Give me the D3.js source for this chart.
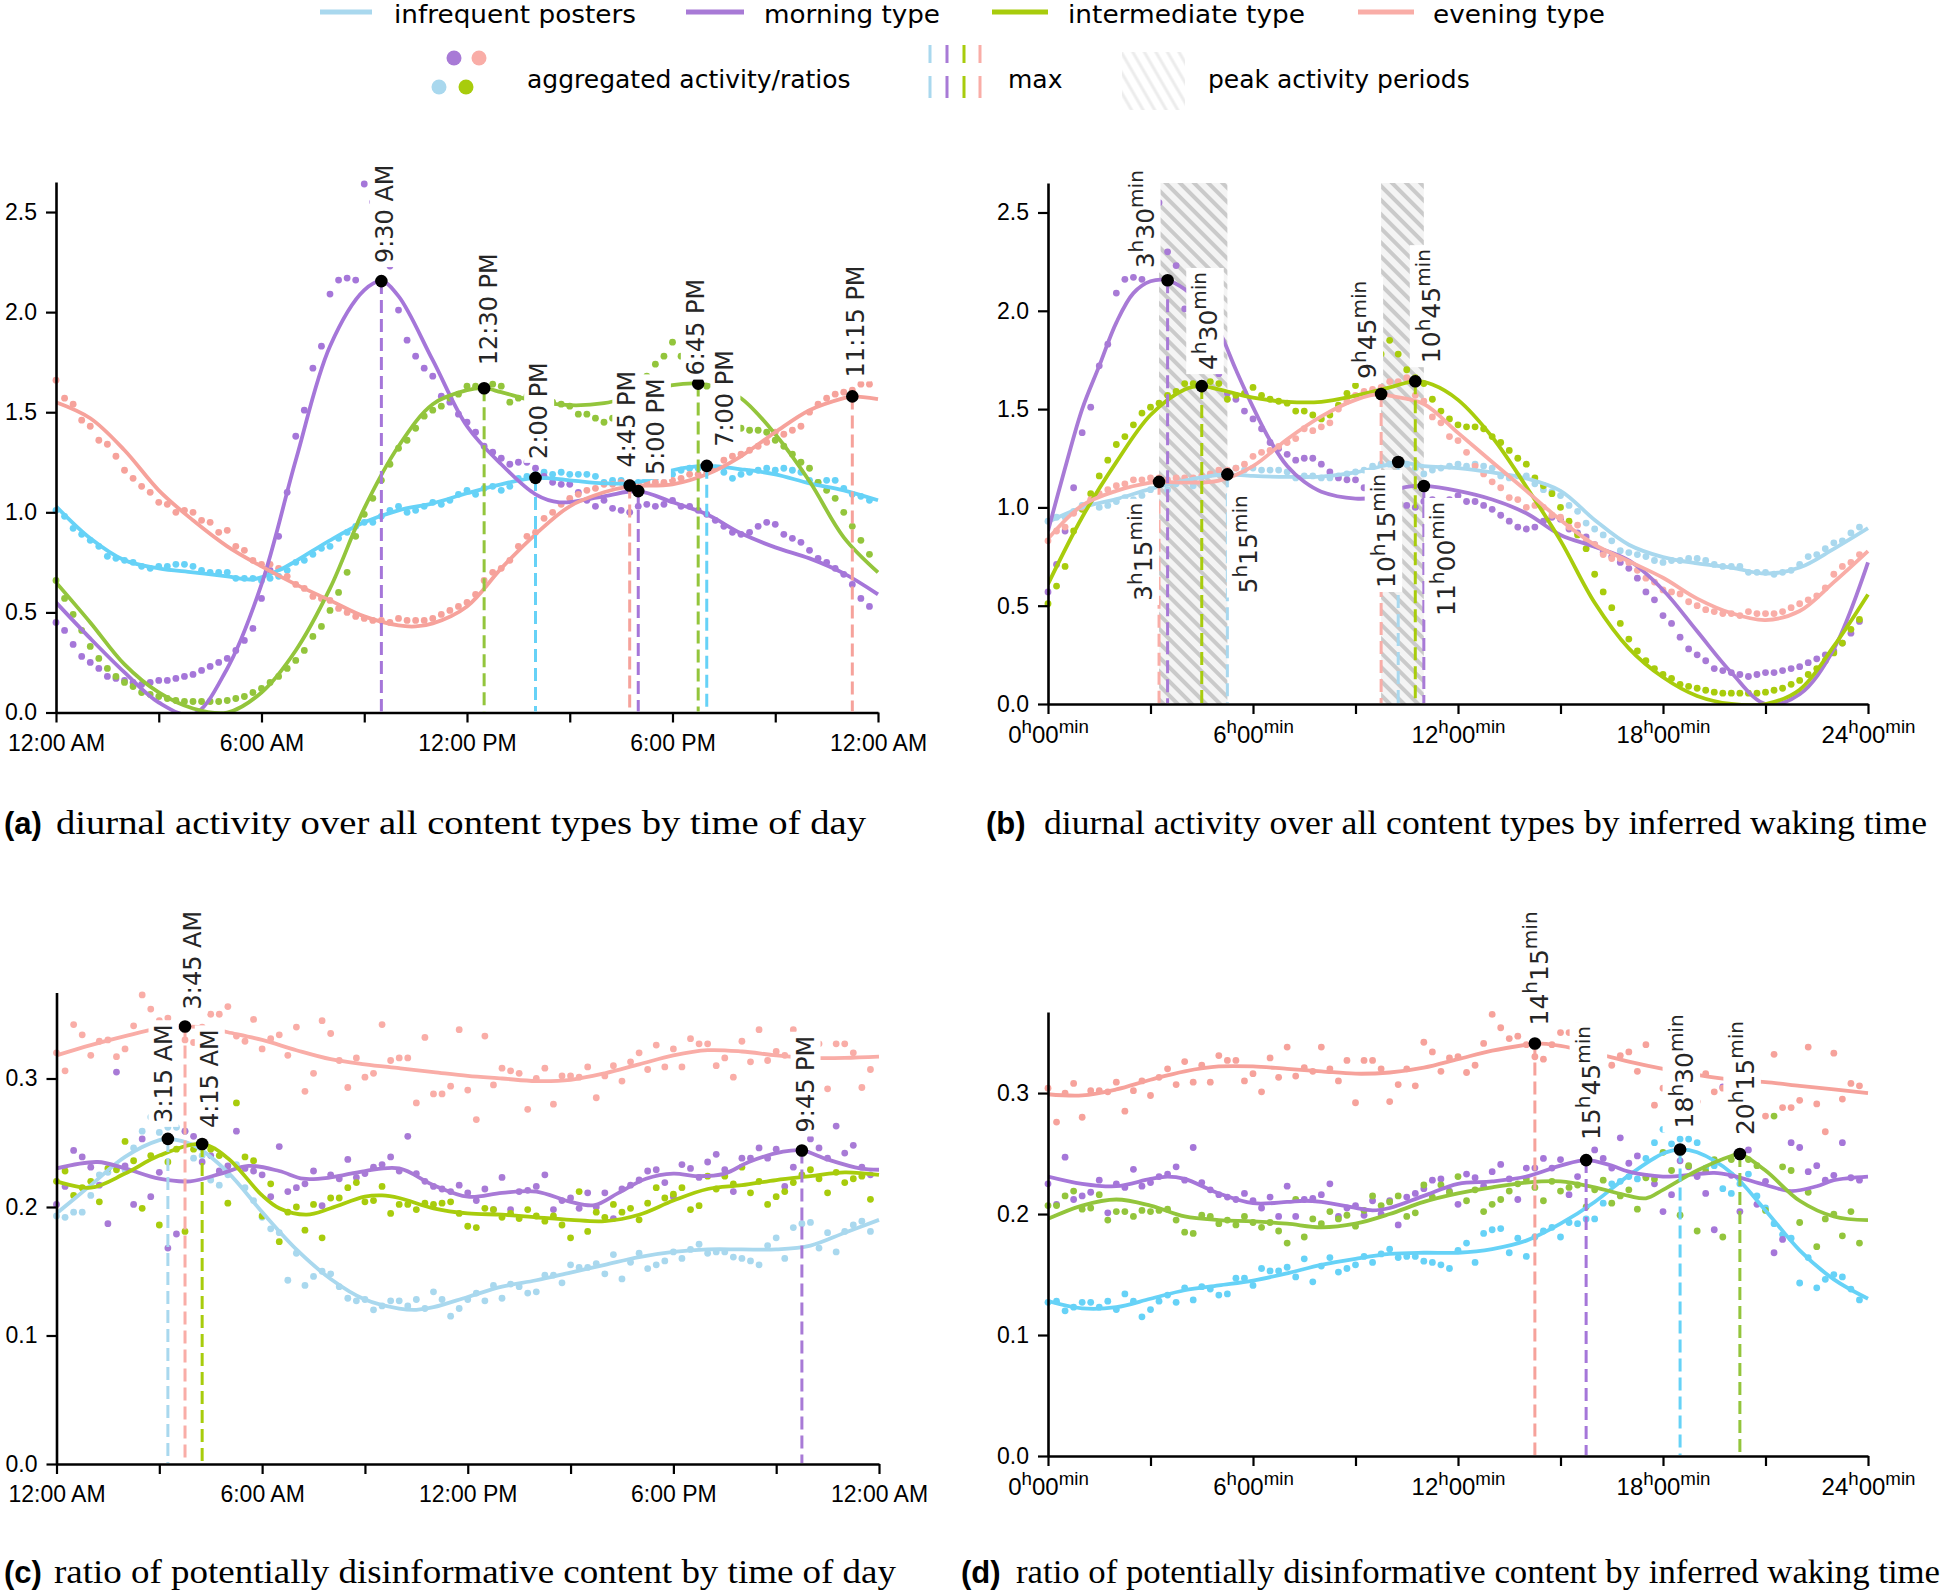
<!DOCTYPE html>
<html><head><meta charset="utf-8">
<script src="https://cdn.jsdelivr.net/npm/d3@7"></script>
<style>body{margin:0;background:#fff}svg{display:block}</style>
</head><body>
<svg id="chart" width="1945" height="1595"></svg>
<script>
// ---------------- DATA ----------------
// 15-minute aggregated values (96 per series) ------------------
const blueA=[1.01,0.98,0.92,0.89,0.86,0.83,0.78,0.77,0.76,0.75,0.73,0.72,
0.73,0.73,0.74,0.74,0.73,0.71,0.70,0.70,0.70,0.67,0.67,0.67,
0.66,0.67,0.68,0.71,0.75,0.76,0.79,0.82,0.83,0.87,0.90,0.93,
0.95,0.95,0.98,1.01,1.03,1.00,1.01,1.03,1.05,1.04,1.06,1.09,
1.11,1.09,1.12,1.13,1.11,1.13,1.17,1.18,1.19,1.20,1.19,1.20,
1.19,1.19,1.19,1.18,1.15,1.16,1.16,1.15,1.15,1.16,1.17,1.18,
1.19,1.21,1.22,1.22,1.23,1.22,1.20,1.17,1.19,1.20,1.21,1.22,
1.21,1.22,1.21,1.20,1.16,1.15,1.16,1.16,1.12,1.09,1.08,1.06];
const purpleA=[0.45,0.41,0.34,0.28,0.25,0.22,0.18,0.17,0.16,0.15,0.14,0.15,
0.16,0.16,0.17,0.18,0.19,0.21,0.23,0.25,0.27,0.31,0.36,0.42,
0.57,0.71,0.88,1.10,1.38,1.51,1.72,1.83,2.09,2.16,2.17,2.16,
2.64,2.55,2.30,2.23,2.01,1.86,1.78,1.72,1.68,1.58,1.55,1.49,
1.45,1.40,1.33,1.30,1.27,1.24,1.25,1.25,1.22,1.18,1.15,1.14,
1.14,1.10,1.06,1.03,1.06,1.02,1.01,1.00,1.03,1.04,1.03,1.04,
1.06,1.03,1.03,1.01,0.99,0.96,0.93,0.90,0.89,0.90,0.93,0.95,
0.94,0.89,0.87,0.85,0.81,0.77,0.75,0.72,0.69,0.64,0.57,0.53];
const greenA=[0.66,0.57,0.49,0.41,0.33,0.27,0.22,0.18,0.15,0.13,0.10,0.09,
0.08,0.07,0.06,0.055,0.055,0.055,0.055,0.055,0.06,0.07,0.08,0.10,
0.12,0.15,0.18,0.22,0.26,0.31,0.38,0.43,0.51,0.60,0.70,0.88,
0.99,1.07,1.16,1.24,1.32,1.36,1.42,1.48,1.51,1.53,1.57,1.59,
1.63,1.63,1.63,1.64,1.63,1.55,1.57,1.58,1.61,1.57,1.55,1.54,
1.53,1.49,1.49,1.47,1.45,1.47,1.52,1.58,1.62,1.68,1.74,1.78,
1.85,1.78,1.70,1.66,1.63,1.55,1.49,1.45,1.42,1.41,1.41,1.40,
1.36,1.33,1.29,1.25,1.22,1.15,1.11,1.07,1.00,0.93,0.86,0.79];
const pinkA=[1.66,1.57,1.54,1.46,1.43,1.36,1.34,1.28,1.21,1.17,1.13,1.10,
1.05,1.04,1.00,1.01,1.00,0.96,0.95,0.90,0.91,0.83,0.81,0.76,
0.74,0.74,0.72,0.68,0.64,0.62,0.58,0.57,0.56,0.52,0.50,0.48,
0.47,0.46,0.46,0.45,0.47,0.46,0.46,0.46,0.47,0.49,0.51,0.53,
0.55,0.59,0.66,0.70,0.72,0.76,0.83,0.88,0.90,0.97,1.00,1.04,
1.07,1.09,1.11,1.12,1.14,1.14,1.15,1.15,1.14,1.15,1.15,1.15,
1.16,1.17,1.19,1.19,1.20,1.22,1.26,1.28,1.29,1.31,1.33,1.35,
1.40,1.39,1.41,1.43,1.50,1.54,1.57,1.59,1.60,1.61,1.64,1.64];

const blueB=[0.93,
0.95,0.95,0.98,1.01,1.03,1.00,1.01,1.03,1.05,1.04,1.06,1.09,
1.11,1.09,1.12,1.13,1.11,1.13,1.17,1.18,1.19,1.20,1.19,1.20,
1.19,1.19,1.19,1.18,1.15,1.16,1.16,1.15,1.15,1.16,1.17,1.18,
1.19,1.21,1.22,1.22,1.23,1.22,1.20,1.17,1.19,1.20,1.21,1.22,
1.21,1.22,1.21,1.20,1.16,1.15,1.16,1.16,1.12,1.09,1.08,1.06,
1.01,0.98,0.92,0.89,0.86,0.83,0.78,0.77,0.76,0.75,0.73,0.72,
0.73,0.73,0.74,0.74,0.73,0.71,0.70,0.70,0.70,0.67,0.67,0.67,
0.66,0.67,0.68,0.71,0.75,0.76,0.79,0.82,0.83,0.87,0.90];
const purpleB=[0.57,0.71,0.88,1.10,1.38,1.51,1.72,1.83,2.09,2.16,2.17,2.16,
2.64,2.55,2.30,2.23,2.01,1.86,1.78,1.72,1.68,1.58,1.55,1.49,
1.45,1.40,1.33,1.30,1.27,1.24,1.25,1.25,1.22,1.18,1.15,1.14,
1.14,1.10,1.06,1.03,1.06,1.02,1.01,1.00,1.03,1.04,1.03,1.04,
1.06,1.03,1.03,1.01,0.99,0.96,0.93,0.90,0.89,0.90,0.93,0.95,
0.94,0.89,0.87,0.85,0.81,0.77,0.75,0.72,0.69,0.64,0.57,0.53,
0.45,0.41,0.34,0.28,0.25,0.22,0.18,0.17,0.16,0.15,0.14,0.15,
0.16,0.16,0.17,0.18,0.19,0.21,0.23,0.25,0.27,0.31,0.36,0.42];
const greenB=[0.51,0.60,0.70,0.88,
0.99,1.07,1.16,1.24,1.32,1.36,1.42,1.48,1.51,1.53,1.57,1.59,
1.63,1.63,1.63,1.64,1.63,1.55,1.57,1.58,1.61,1.57,1.55,1.54,
1.53,1.49,1.49,1.47,1.45,1.47,1.52,1.58,1.62,1.68,1.74,1.78,
1.85,1.78,1.70,1.66,1.63,1.55,1.49,1.45,1.42,1.41,1.41,1.40,
1.36,1.33,1.29,1.25,1.22,1.15,1.11,1.07,1.00,0.93,0.86,0.79,
0.66,0.57,0.49,0.41,0.33,0.27,0.22,0.18,0.15,0.13,0.10,0.09,
0.08,0.07,0.06,0.055,0.055,0.055,0.055,0.055,0.06,0.07,0.08,0.10,
0.12,0.15,0.18,0.22,0.26,0.31,0.38,0.43];
const pinkB=[0.83,0.88,0.90,0.97,1.00,1.04,
1.07,1.09,1.11,1.12,1.14,1.14,1.15,1.15,1.14,1.15,1.15,1.15,
1.16,1.17,1.19,1.19,1.20,1.22,1.26,1.28,1.29,1.31,1.33,1.35,
1.40,1.39,1.41,1.43,1.50,1.54,1.57,1.59,1.60,1.61,1.64,1.64,
1.66,1.57,1.54,1.46,1.43,1.36,1.34,1.28,1.21,1.17,1.13,1.10,
1.05,1.04,1.00,1.01,1.00,0.96,0.95,0.90,0.91,0.83,0.81,0.76,
0.74,0.74,0.72,0.68,0.64,0.62,0.58,0.57,0.56,0.52,0.50,0.48,
0.47,0.46,0.46,0.45,0.47,0.46,0.46,0.46,0.47,0.49,0.51,0.53,
0.55,0.59,0.66,0.70,0.72,0.76];

const blueC=[0.193,0.192,0.196,0.196,0.209,0.225,0.227,0.231,0.229,0.246,0.259,0.270,
0.258,0.262,0.262,0.259,0.238,0.240,0.221,0.217,0.225,0.233,0.215,0.205,
0.192,0.183,0.180,0.143,0.164,0.139,0.146,0.150,0.148,0.138,0.129,0.127,
0.128,0.120,0.123,0.127,0.127,0.123,0.128,0.121,0.134,0.128,0.115,0.121,
0.128,0.133,0.127,0.139,0.129,0.140,0.138,0.133,0.134,0.147,0.147,0.141,
0.155,0.153,0.153,0.156,0.148,0.163,0.144,0.157,0.164,0.152,0.155,0.158,
0.165,0.160,0.167,0.171,0.164,0.165,0.165,0.161,0.160,0.158,0.155,0.170,
0.176,0.160,0.184,0.187,0.188,0.168,0.180,0.165,0.181,0.186,0.189,0.181];
const purpleC=[0.202,0.216,0.244,0.239,0.231,0.217,0.187,0.305,0.232,0.202,0.253,0.208,
0.227,0.168,0.179,0.259,0.255,0.235,0.240,0.228,0.232,0.259,0.230,0.228,
0.225,0.208,0.247,0.212,0.215,0.218,0.228,0.201,0.225,0.222,0.237,0.223,
0.226,0.231,0.233,0.239,0.228,0.255,0.226,0.220,0.216,0.214,0.212,0.217,
0.211,0.205,0.214,0.198,0.223,0.198,0.212,0.213,0.216,0.225,0.198,0.205,
0.207,0.199,0.211,0.200,0.211,0.191,0.214,0.217,0.221,0.228,0.229,0.219,
0.208,0.233,0.230,0.223,0.235,0.241,0.229,0.212,0.238,0.238,0.246,0.238,
0.245,0.216,0.231,0.244,0.253,0.246,0.238,0.263,0.242,0.248,0.231,0.225];
const greenC=[0.220,0.228,0.209,0.215,0.220,0.204,0.230,0.229,0.251,0.236,0.199,0.240,
0.186,0.235,0.245,0.181,0.245,0.248,0.245,0.240,0.203,0.281,0.239,0.236,
0.193,0.218,0.173,0.196,0.200,0.182,0.202,0.176,0.207,0.207,0.215,0.219,
0.204,0.205,0.216,0.195,0.202,0.202,0.198,0.203,0.202,0.203,0.204,0.195,
0.185,0.184,0.199,0.198,0.192,0.195,0.191,0.198,0.193,0.189,0.193,0.186,
0.176,0.212,0.181,0.196,0.192,0.202,0.196,0.199,0.190,0.203,0.215,0.207,
0.210,0.215,0.198,0.201,0.224,0.214,0.224,0.218,0.231,0.211,0.220,0.202,
0.208,0.212,0.219,0.225,0.229,0.222,0.211,0.227,0.219,0.222,0.224,0.206];
const pinkC=[0.320,0.306,0.342,0.334,0.318,0.329,0.330,0.317,0.323,0.341,0.365,0.354,
0.345,0.347,0.340,0.330,0.328,0.340,0.350,0.350,0.356,0.333,0.329,0.346,
0.323,0.331,0.334,0.318,0.340,0.290,0.304,0.345,0.335,0.314,0.293,0.316,
0.301,0.304,0.342,0.314,0.316,0.316,0.281,0.332,0.288,0.288,0.294,0.338,
0.291,0.268,0.333,0.295,0.308,0.306,0.304,0.276,0.300,0.308,0.280,0.302,
0.302,0.301,0.309,0.285,0.302,0.310,0.298,0.313,0.320,0.307,0.326,0.309,
0.323,0.309,0.331,0.327,0.327,0.310,0.316,0.301,0.329,0.313,0.338,0.314,
0.321,0.318,0.338,0.320,0.310,0.327,0.292,0.327,0.327,0.320,0.293,0.307];

const blueD=[0.127,
0.128,0.120,0.123,0.127,0.127,0.123,0.128,0.121,0.134,0.128,0.115,0.121,
0.128,0.133,0.127,0.139,0.129,0.140,0.138,0.133,0.134,0.147,0.147,0.141,
0.155,0.153,0.153,0.156,0.148,0.163,0.144,0.157,0.164,0.152,0.155,0.158,
0.165,0.160,0.167,0.171,0.164,0.165,0.165,0.161,0.160,0.158,0.155,0.170,
0.176,0.160,0.184,0.187,0.188,0.168,0.180,0.165,0.181,0.186,0.189,0.181,
0.193,0.192,0.196,0.196,0.209,0.225,0.227,0.231,0.229,0.246,0.259,0.270,
0.258,0.262,0.262,0.259,0.238,0.240,0.221,0.217,0.225,0.233,0.215,0.205,
0.192,0.183,0.180,0.143,0.164,0.139,0.146,0.150,0.148,0.138,0.129];
const purpleD=[0.225,0.208,0.247,0.212,0.215,0.218,0.228,0.201,0.225,0.222,0.237,0.223,
0.226,0.231,0.233,0.239,0.228,0.255,0.226,0.220,0.216,0.214,0.212,0.217,
0.211,0.205,0.214,0.198,0.223,0.198,0.212,0.213,0.216,0.225,0.198,0.205,
0.207,0.199,0.211,0.200,0.211,0.191,0.214,0.217,0.221,0.228,0.229,0.219,
0.208,0.233,0.230,0.223,0.235,0.241,0.229,0.212,0.238,0.238,0.246,0.238,
0.245,0.216,0.231,0.244,0.253,0.246,0.238,0.263,0.242,0.248,0.231,0.225,
0.202,0.216,0.244,0.239,0.231,0.217,0.187,0.305,0.232,0.202,0.253,0.208,
0.227,0.168,0.179,0.259,0.255,0.235,0.240,0.228,0.232,0.259,0.230,0.228];
const greenD=[0.207,0.207,0.215,0.219,
0.204,0.205,0.216,0.195,0.202,0.202,0.198,0.203,0.202,0.203,0.204,0.195,
0.185,0.184,0.199,0.198,0.192,0.195,0.191,0.198,0.193,0.189,0.193,0.186,
0.176,0.212,0.181,0.196,0.192,0.202,0.196,0.199,0.190,0.203,0.215,0.207,
0.210,0.215,0.198,0.201,0.224,0.214,0.224,0.218,0.231,0.211,0.220,0.202,
0.208,0.212,0.219,0.225,0.229,0.222,0.211,0.227,0.219,0.222,0.224,0.206,
0.220,0.228,0.209,0.215,0.220,0.204,0.230,0.229,0.251,0.236,0.199,0.240,
0.186,0.235,0.245,0.181,0.245,0.248,0.245,0.240,0.203,0.281,0.239,0.236,
0.193,0.218,0.173,0.196,0.200,0.182,0.202,0.176];
const pinkD=[0.304,0.276,0.300,0.308,0.280,0.302,
0.302,0.301,0.309,0.285,0.302,0.310,0.298,0.313,0.320,0.307,0.326,0.309,
0.323,0.309,0.331,0.327,0.327,0.310,0.316,0.301,0.329,0.313,0.338,0.314,
0.321,0.318,0.338,0.320,0.310,0.327,0.292,0.327,0.327,0.320,0.293,0.307,
0.320,0.306,0.342,0.334,0.318,0.329,0.330,0.317,0.323,0.341,0.365,0.354,
0.345,0.347,0.340,0.330,0.328,0.340,0.350,0.350,0.356,0.333,0.329,0.346,
0.323,0.331,0.334,0.318,0.340,0.290,0.304,0.345,0.335,0.314,0.293,0.316,
0.301,0.304,0.342,0.314,0.316,0.316,0.281,0.332,0.288,0.288,0.294,0.338,
0.291,0.268,0.333,0.295,0.308,0.306];

// smoothed curves: [hour, value] ---------------------------------
const curveBlueA=[[0,1.03],[1,0.87],[2,0.76],[3,0.72],[4,0.70],[5,0.68],[5.75,0.665],[6.5,0.71],[7,0.756],[8,0.86],[9,0.95],[10,1.01],[11,1.045],[12,1.095],[13,1.14],[14,1.172],[15,1.16],[16,1.145],[17,1.15],[18,1.21],[19,1.232],[20,1.215],[21,1.19],[22,1.145],[23,1.11],[24,1.06]];
const curvePurpleA=[[0,0.55],[1,0.37],[2,0.20],[3,0.05],[4,-0.01],[5,0.22],[6,0.64],[7,1.26],[8,1.83],[9,2.11],[9.5,2.155],[10,2.08],[11,1.76],[12,1.43],[13,1.24],[14,1.09],[14.7,1.05],[16,1.08],[17,1.106],[18,1.05],[19,0.99],[20,0.895],[21,0.825],[22,0.77],[23,0.695],[24,0.59]];
const curveGreenA=[[0,0.65],[1,0.45],[2,0.24],[3,0.10],[4,0.02],[5,0.0],[6,0.10],[7,0.31],[8,0.62],[9,1.02],[10,1.33],[11,1.54],[12,1.61],[12.5,1.62],[13,1.60],[14,1.555],[15,1.535],[16,1.545],[17,1.59],[18,1.635],[18.75,1.643],[19.3,1.625],[20,1.57],[21,1.39],[22,1.155],[23,0.875],[24,0.70]];
const curvePinkA=[[0,1.55],[1,1.47],[2,1.31],[3,1.11],[4,0.96],[5,0.83],[6,0.73],[7,0.64],[8,0.56],[9,0.48],[10,0.435],[10.5,0.43],[11,0.445],[12,0.53],[13,0.72],[14,0.89],[15,1.03],[16,1.10],[16.75,1.13],[18,1.14],[19,1.19],[20,1.28],[21,1.40],[22,1.51],[23,1.57],[23.25,1.579],[24,1.565]];

const curveBlueB=[[0,0.926],[1,1.0],[2,1.042],[3,1.094],[4,1.136],[5,1.165],[5.25,1.168],[6,1.16],[7,1.155],[8,1.157],[9,1.178],[10,1.22],[10.25,1.231],[11,1.21],[12,1.2],[13,1.178],[14,1.147],[15,1.084],[16,0.936],[17,0.81],[18,0.747],[19,0.715],[20,0.694],[21,0.663],[22,0.694],[23,0.789],[24,0.894]];
const curvePurpleB=[[0,0.88],[0.5,1.2],[1,1.5],[1.5,1.72],[2,1.94],[2.5,2.09],[3,2.15],[3.5,2.155],[4,2.11],[4.5,2.03],[5,1.90],[5.5,1.70],[6,1.51],[6.5,1.34],[7,1.21],[7.5,1.13],[8,1.08],[9,1.045],[9.5,1.05],[10,1.08],[10.5,1.105],[11,1.109],[12,1.084],[13,1.04],[14,0.97],[15,0.86],[16,0.80],[17,0.73],[18,0.58],[19,0.37],[20,0.16],[21,0.0],[22,0.05],[23,0.28],[24,0.72]];
const curveGreenB=[[0,0.61],[1,0.95],[2,1.23],[3,1.47],[4,1.60],[4.5,1.617],[5,1.60],[6,1.558],[7,1.537],[8,1.537],[9,1.568],[10,1.61],[10.75,1.642],[11.25,1.625],[12,1.547],[13,1.358],[14,1.105],[15,0.831],[16,0.515],[17,0.283],[18,0.136],[19,0.041],[20,0.0],[21,0.0],[22,0.073],[23,0.294],[24,0.557]];
const curvePinkB=[[0,0.84],[1,1.01],[2,1.084],[3,1.126],[3.25,1.13],[4,1.126],[5,1.136],[6,1.21],[7,1.347],[8,1.463],[9,1.547],[9.75,1.577],[10,1.568],[11,1.526],[12,1.379],[13,1.231],[14,1.084],[15,0.936],[16,0.81],[17,0.726],[18,0.642],[19,0.536],[20,0.462],[21,0.427],[22,0.473],[23,0.62],[24,0.778]];

const curveBlueC=[[0,0.195],[1,0.217],[2,0.239],[3,0.252],[3.25,0.253],[4,0.248],[5,0.227],[6,0.196],[7,0.167],[8,0.144],[9,0.128],[10,0.121],[10.5,0.120],[11,0.122],[12,0.130],[13,0.138],[14,0.143],[15,0.149],[16,0.155],[17,0.161],[18,0.165],[19,0.167],[20,0.167],[21,0.167],[22,0.170],[23,0.180],[24,0.190]];
const curvePurpleC=[[0,0.230],[1.2,0.235],[2,0.230],[3,0.222],[3.9,0.220],[4.8,0.226],[5.6,0.232],[6.5,0.228],[7.2,0.222],[8,0.223],[9,0.228],[10,0.230],[11,0.217],[12,0.208],[13,0.211],[14,0.212],[15,0.204],[15.7,0.2015],[16.4,0.211],[17.2,0.222],[18,0.226],[18.7,0.224],[19.5,0.226],[20.2,0.235],[21.2,0.243],[21.75,0.244],[22.5,0.237],[23.45,0.230],[24,0.229]];
const curveGreenC=[[0,0.220],[1,0.215],[2,0.226],[3,0.240],[4.25,0.249],[5,0.238],[6,0.209],[6.5,0.199],[7.3,0.194],[8,0.199],[9,0.208],[9.5,0.209],[10,0.207],[11,0.199],[12,0.195],[13,0.194],[14,0.192],[15,0.190],[16,0.189],[17,0.194],[18,0.205],[19,0.214],[20,0.217],[21,0.221],[22,0.224],[23,0.227],[24,0.225]];
const curvePinkC=[[0,0.318],[1,0.326],[2,0.333],[3,0.339],[3.75,0.3405],[4.5,0.339],[5,0.336],[6,0.330],[7,0.322],[8,0.315],[9,0.311],[10,0.308],[11,0.305],[12,0.302],[13,0.300],[14,0.298],[15,0.299],[16,0.304],[17,0.311],[18,0.318],[19,0.322],[20,0.321],[21,0.318],[22,0.316],[23,0.316],[24,0.317]];

const curveBlueD=[[0,0.128],[1,0.122],[2,0.123],[3,0.130],[4,0.137],[5,0.141],[6,0.145],[7,0.151],[8,0.158],[9,0.163],[10,0.167],[11,0.168],[12,0.168],[13,0.171],[14,0.178],[15,0.192],[16,0.210],[17,0.232],[18,0.250],[18.5,0.2535],[19,0.251],[20,0.234],[21,0.203],[22,0.170],[23,0.146],[24,0.130]];
const curvePurpleD=[[0,0.231],[1,0.225],[2,0.223],[3,0.229],[3.5,0.231],[4,0.229],[5,0.217],[6,0.209],[7,0.210],[7.5,0.211],[8,0.210],[9,0.205],[9.5,0.203],[10,0.205],[11,0.215],[12,0.225],[13,0.227],[14,0.231],[15,0.240],[15.75,0.2446],[16.5,0.240],[17,0.235],[18,0.231],[19,0.233],[19.5,0.234],[20,0.232],[21,0.224],[21.75,0.219],[22.5,0.223],[23,0.228],[24,0.231]];
const curveGreenD=[[0,0.196],[1,0.207],[2,0.212],[3,0.207],[4,0.198],[5,0.195],[6,0.194],[7,0.192],[8,0.189],[9,0.192],[10,0.200],[11,0.210],[12,0.217],[13,0.222],[14,0.226],[15,0.227],[16,0.222],[17,0.215],[17.5,0.213],[18,0.220],[19,0.236],[20,0.248],[20.25,0.2496],[21,0.236],[22,0.211],[23,0.198],[24,0.195]];
const curvePinkD=[[0,0.299],[1,0.298],[2,0.303],[3,0.311],[4,0.318],[5,0.322],[6,0.322],[7,0.320],[8,0.318],[9,0.316],[10,0.317],[11,0.321],[12,0.328],[13,0.335],[14,0.340],[14.25,0.341],[15,0.339],[16,0.333],[17,0.326],[18,0.320],[19,0.315],[20,0.311],[21,0.309],[22,0.306],[23,0.303],[24,0.300]];

// maxima: [series, hour, value, label]
const peaksA=[['morning',9.5,2.155,'9:30 AM'],['intermediate',12.5,1.62,'12:30 PM'],['infrequent',14.0,1.172,'2:00 PM'],['evening',16.75,1.134,'4:45 PM'],['morning',17.0,1.106,'5:00 PM'],['intermediate',18.75,1.643,'6:45 PM'],['infrequent',19.0,1.232,'7:00 PM'],['evening',23.25,1.579,'11:15 PM']];
const peaksB=[['morning',3.5,2.155,['3','30']],['intermediate',4.5,1.617,['4','30']],['evening',3.25,1.13,['3','15']],['infrequent',5.25,1.168,['5','15']],['evening',9.75,1.577,['9','45']],['intermediate',10.75,1.642,['10','45']],['infrequent',10.25,1.231,['10','15']],['morning',11.0,1.109,['11','00']]];
const peaksC=[['infrequent',3.25,0.253,'3:15 AM'],['evening',3.75,0.3405,'3:45 AM'],['intermediate',4.25,0.249,'4:15 AM'],['morning',21.75,0.244,'9:45 PM']];
const peaksD=[['evening',14.25,0.341,['14','15']],['morning',15.75,0.2446,['15','45']],['infrequent',18.5,0.2534,['18','30']],['intermediate',20.25,0.2496,['20','15']]];
const peakPeriodsB=[[3.25,5.25],[9.75,11.0]];

const xTickHours=[0,3,6,9,12,15,18,21,24];
const clockLabels={0:'12:00 AM',6:'6:00 AM',12:'12:00 PM',18:'6:00 PM',24:'12:00 AM'};
const wakeLabels={0:['0','00'],6:['6','00'],12:['12','00'],18:['18','00'],24:['24','00']};
const yTicksActivity=[0,0.5,1.0,1.5,2.0,2.5];
const yTicksRatio=[0,0.1,0.2,0.3];
const seriesKeys=['infrequent','morning','intermediate','evening'];
const seriesNames=['infrequent posters','morning type','intermediate type','evening type'];
const captions=[['(a)','diurnal activity over all content types by time of day'],['(b)','diurnal activity over all content types by inferred waking time'],['(c)','ratio of potentially disinformative content by time of day'],['(d)','ratio of potentially disinformative content by inferred waking time']];
const legendExtra=['aggregated activity/ratios','max','peak activity periods'];

// ---------------- STYLE / LAYOUT ----------------
const palVivid={infrequent:'#66d2f7',morning:'#a576d9',intermediate:'#93c53c',evening:'#f6a29b'};
const palSoft={infrequent:'#a9d8ee',morning:'#a87ad6',intermediate:'#a8cc0c',evening:'#f9ada7'};
// label offsets [dx, gap, below]
const lsA=[[3,18,0],[4,23,0],[3,19,0],[-3,18,0],[17,16,0],[-3,8,0],[18,19,0],[3,19,0]];
const lsB=[[-23,12,0],[6,16,0],[-16,21,1],[21,21,1],[-14,15,0],[16,18,0],[-12,12,1],[22,16,1]];
const lsC=[[-5,16,0],[7,17,0],[7,16,0],[3,18,0]];
const lsD=[[4,18,0],[5,20,0],[4,21,0],[5,19,0]];

const slots=d3.range(96).map(i=>i/4);
const svg=d3.select('#chart');
const defs=svg.append('defs');
const hp=defs.append('pattern').attr('id','hatch').attr('patternUnits','userSpaceOnUse').attr('width',10).attr('height',10).attr('patternTransform','rotate(-45)');
hp.append('rect').attr('width',10).attr('height',10).attr('fill','#f4f4f4');
hp.append('line').attr('x1',5).attr('y1',0).attr('x2',5).attr('y2',10).attr('stroke','#cacaca').attr('stroke-width',4);
const hp2=defs.append('pattern').attr('id','hatchLegend').attr('patternUnits','userSpaceOnUse').attr('width',10).attr('height',10).attr('patternTransform','rotate(-30)');
hp2.append('rect').attr('width',10).attr('height',10).attr('fill','#ffffff');
hp2.append('line').attr('x1',5).attr('y1',0).attr('x2',5).attr('y2',10).attr('stroke','#ececec').attr('stroke-width',3);

const TICKFONT='"Liberation Sans", Arial, sans-serif';
const ANNFONT='"DejaVu Sans", sans-serif';

const panels=[
 {id:'a',x0:56,x1:878,y0:712.5,ytop:182,ymax:2.65,yt:yTicksActivity,pal:palVivid,
  dots:{infrequent:blueA,morning:purpleA,intermediate:greenA,evening:pinkA},
  curves:{infrequent:curveBlueA,morning:curvePurpleA,intermediate:curveGreenA,evening:curvePinkA},
  peaks:peaksA,ls:lsA,wake:false,periods:null,cap:captions[0],capPos:[4,56,866,834]},
 {id:'b',x0:1048,x1:1868,y0:704,ytop:183,ymax:2.65,yt:yTicksActivity,pal:palSoft,
  dots:{infrequent:blueB,morning:purpleB,intermediate:greenB,evening:pinkB},
  curves:{infrequent:curveBlueB,morning:curvePurpleB,intermediate:curveGreenB,evening:curvePinkB},
  peaks:peaksB,ls:lsB,wake:true,periods:peakPeriodsB,cap:captions[1],capPos:[986,1044,1927,834]},
 {id:'c',x0:56.5,x1:879,y0:1464,ytop:992.4,ymax:0.367,yt:yTicksRatio,pal:palSoft,
  dots:{infrequent:blueC,morning:purpleC,intermediate:greenC,evening:pinkC},
  curves:{infrequent:curveBlueC,morning:curvePurpleC,intermediate:curveGreenC,evening:curvePinkC},
  peaks:peaksC,ls:lsC,wake:false,periods:null,cap:captions[2],capPos:[4,54,896,1583]},
 {id:'d',x0:1048,x1:1868,y0:1456,ytop:1012,ymax:0.367,yt:yTicksRatio,pal:palVivid,
  dots:{infrequent:blueD,morning:purpleD,intermediate:greenD,evening:pinkD},
  curves:{infrequent:curveBlueD,morning:curvePurpleD,intermediate:curveGreenD,evening:curvePinkD},
  peaks:peaksD,ls:lsD,wake:true,periods:null,cap:captions[3],capPos:[961,1016,1940,1583]}
];

function supText(t,parts,fs,ratio){
  t.append('tspan').text(parts[0]);
  t.append('tspan').attr('dy',-fs*0.42).attr('font-size',fs*ratio).text('h');
  t.append('tspan').attr('dy',fs*0.42).text(parts[1]);
  t.append('tspan').attr('dy',-fs*0.42).attr('font-size',fs*ratio).text('min');
}

panels.forEach(p=>{
  const x=d3.scaleLinear().domain([0,24]).range([p.x0,p.x1]);
  const y=d3.scaleLinear().domain([0,p.ymax]).range([p.y0,p.ytop]);
  const g=svg.append('g');
  const cid='clip-'+p.id;
  defs.append('clipPath').attr('id',cid).append('rect').attr('x',p.x0).attr('y',p.ytop-20).attr('width',p.x1-p.x0+4).attr('height',p.y0-p.ytop+20);
  if(p.periods){
    p.periods.forEach(([a,b])=>g.append('rect').attr('x',x(a)).attr('y',p.ytop).attr('width',x(b)-x(a)).attr('height',p.y0-p.ytop).attr('fill','url(#hatch)'));
  }
  seriesKeys.forEach(s=>{
    g.append('g').selectAll('circle').data(p.dots[s]).join('circle')
      .attr('cx',(d,i)=>x(slots[i])).attr('cy',d=>y(d)).attr('r',3.4).attr('fill',p.pal[s]);
  });
  const line=d3.line().x(d=>x(d[0])).y(d=>y(d[1])).curve(d3.curveCatmullRom.alpha(0.5));
  seriesKeys.forEach(s=>{
    g.append('path').attr('d',line(p.curves[s])).attr('fill','none').attr('stroke',p.pal[s])
      .attr('stroke-width',3.8).attr('clip-path',`url(#${cid})`);
  });
  // axes
  const xa=d3.axisBottom(x).tickValues(xTickHours).tickSize(10).tickPadding(12).tickSizeOuter(0)
    .tickFormat(d=> (d%6===0 && !p.wake) ? clockLabels[d] : '');
  const gx=g.append('g').attr('transform',`translate(0,${p.y0})`).call(xa);
  if(p.wake){
    gx.selectAll('.tick text').each(function(d){ if(d%6===0){ const t=d3.select(this).attr('font-size',24); supText(t,wakeLabels[d],24,0.78);} });
  }
  const ya=d3.axisLeft(y).tickValues(p.yt).tickSize(10).tickPadding(9).tickSizeOuter(0).tickFormat(d3.format('.1f'));
  const gy=g.append('g').attr('transform',`translate(${p.x0},0)`).call(ya);
  [gx,gy].forEach(a=>{
    a.attr('font-size',23).attr('font-family',TICKFONT);
    a.select('.domain').attr('stroke','#000').attr('stroke-width',2.6);
    a.selectAll('.tick line').attr('stroke','#000').attr('stroke-width',2.2);
    a.selectAll('.tick text').attr('fill','#000');
  });
  // max lines
  p.peaks.forEach(pk=>{
    g.append('line').attr('x1',x(pk[1])).attr('x2',x(pk[1])).attr('y1',y(pk[2])).attr('y2',p.y0-1)
      .attr('stroke',p.pal[pk[0]]).attr('stroke-width',3).attr('stroke-dasharray','13,6');
  });
  p.peaks.forEach(pk=>{
    g.append('circle').attr('cx',x(pk[1])).attr('cy',y(pk[2])).attr('r',6.3).attr('fill','#000');
  });
  // labels
  p.peaks.forEach((pk,i)=>{
    const [dx,gap,below]=p.ls[i];
    const isSup=Array.isArray(pk[3]);
    const fs=isSup?25:24;
    const px=x(pk[1]), py=y(pk[2]);
    const gg=g.append('g').attr('transform',`translate(${px+dx},${below?py+gap:py-gap}) rotate(-90)`);
    const t=gg.append('text').attr('x',0).attr('y',fs*0.36).attr('font-family',ANNFONT).attr('font-size',fs)
      .attr('fill','#262626').attr('text-anchor',below?'end':'start');
    if(isSup) supText(t,pk[3],fs,0.8); else t.text(pk[3]);
    const bb=t.node().getBBox();
    gg.insert('rect','text').attr('x',bb.x-4).attr('y',bb.y-1).attr('width',bb.width+8).attr('height',bb.height+2).attr('fill','#fff');
  });
  // caption
  const [bx,sx,ex,by]=p.capPos;
  svg.append('text').attr('x',bx).attr('y',by).attr('font-family',TICKFONT).attr('font-weight','bold').attr('font-size',31).attr('fill','#000').text(p.cap[0]);
  svg.append('text').attr('x',sx).attr('y',by).attr('font-family','"Liberation Serif", "Times New Roman", serif').attr('font-size',34)
    .attr('fill','#000').attr('textLength',ex-sx).attr('lengthAdjust','spacingAndGlyphs').text(p.cap[1]);
});

// ---------------- LEGEND ----------------
const lg=svg.append('g').attr('font-family',ANNFONT).attr('font-size',25).attr('fill','#000');
const legLines=[[320,372,394],[686,744,764],[992,1048,1068],[1358,1414,1433]];
seriesKeys.forEach((s,i)=>{
  const [a,b,tx]=legLines[i];
  lg.append('line').attr('x1',a).attr('x2',b).attr('y1',12).attr('y2',12).attr('stroke',palSoft[s]).attr('stroke-width',5);
  lg.append('text').attr('x',tx).attr('y',23).attr('textLength',[242,176,237,172][i]).attr('lengthAdjust','spacingAndGlyphs').text(seriesNames[i]);
});
const legDots=[['morning',454,58],['evening',479,58],['infrequent',439,87],['intermediate',466,87]];
legDots.forEach(([s,cx,cy])=>lg.append('circle').attr('cx',cx).attr('cy',cy).attr('r',7.5).attr('fill',palSoft[s]));
lg.append('text').attr('x',527).attr('y',88).text(legendExtra[0]);
const legMax=[['infrequent',930],['morning',947],['intermediate',964],['evening',980]];
legMax.forEach(([s,lx])=>lg.append('line').attr('x1',lx).attr('x2',lx).attr('y1',45).attr('y2',98).attr('stroke',palSoft[s]).attr('stroke-width',3).attr('stroke-dasharray','18,13,22'));
lg.append('text').attr('x',1008).attr('y',88).text(legendExtra[1]);
lg.append('rect').attr('x',1122).attr('y',52).attr('width',63).attr('height',58).attr('fill','url(#hatchLegend)');
lg.append('text').attr('x',1208).attr('y',88).text(legendExtra[2]);
</script></body></html>
